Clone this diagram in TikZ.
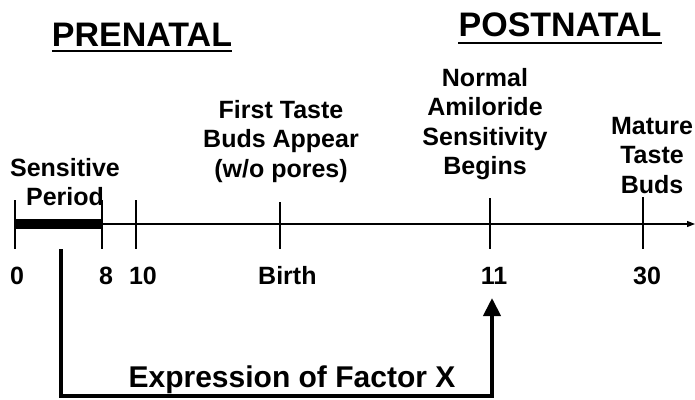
\documentclass[tikz,border=0pt]{standalone}
\usepackage{fontspec}
\setmainfont{Liberation Sans}
\usetikzlibrary{arrows.meta}
\begin{document}
\begin{tikzpicture}[x=1pt,y=-1pt,
  lbl/.style={font=\fontsize{25}{29.5}\selectfont\bfseries, align=center, inner sep=0pt, anchor=north},
  num/.style={font=\fontsize{25}{29}\selectfont\bfseries, inner sep=0pt},
  ttl/.style={font=\fontsize{34}{40}\selectfont\bfseries, inner sep=0pt},
  tickln/.style={line width=1.3pt},
  axisln/.style={line width=1.2pt, -{Triangle[width=6pt,length=8pt]}},
  barln/.style={line width=10pt},
  ulin/.style={line width=2pt},
  factor/.style={line width=4pt, line join=miter, -{Triangle[width=17pt,length=18pt]}}
  ]
\useasboundingbox (0,0) rectangle (695,399);
% titles
\node[ttl] (pre) at (142,35) {PRENATAL};
\node[ttl] (post) at (560,25) {POSTNATAL};
\draw[ulin] ([yshift=-4pt]pre.south west) -- ([yshift=-4pt]pre.south east);
\draw[ulin] ([yshift=-6pt]post.south west) -- ([yshift=-6pt]post.south east);
% labels
\node[lbl] (sens) at (65,158) {Sensitive\\Period};
\node[lbl] (first) at (281,100) {First Taste\\Buds Appear\\(w/o pores)};
\node[lbl] (normal) at (485,68) {Normal\\Amiloride\\Sensitivity\\Begins};
\node[lbl] (mature) at (652,117) {Mature\\Taste\\Buds};
% axis
\coordinate (axs) at (15,224);
\coordinate (axe) at (695,224);
\draw[axisln] (axs) -- (axe);
% ticks
\coordinate (t0a) at (15,200);  \coordinate (t0b) at (15,249);
\coordinate (t8a) at (102,200); \coordinate (t8b) at (102,249);
\coordinate (t10a) at (136,200); \coordinate (t10b) at (136,249);
\coordinate (tba) at (280,202); \coordinate (tbb) at (280,249);
\coordinate (t11a) at (490,198); \coordinate (t11b) at (490,249);
\coordinate (t30a) at (643,197); \coordinate (t30b) at (643,249);
\foreach \t in {t0,t8,t10,tb,t11,t30} \draw[tickln] (\t a) -- (\t b);
% sensitive bar
\coordinate (b0) at (15,224);
\coordinate (b8) at (102,224);
\draw[barln] (b0) -- (b8);
% numbers
\node[num] (n0) at (17,276) {0};
\node[num] (n8) at (106,276) {8};
\node[num] (n10) at (143,276) {10};
\node[num, anchor=west] (nb) at (258,276) {Birth};
\node[num] (n11) at (494,276) {11};
\node[num] (n30) at (647,276) {30};
% factor X
\coordinate (fa) at (61,249);
\coordinate (fb) at (61,396);
\coordinate (fc) at (492,396);
\coordinate (fd) at (492,298);
\draw[factor] (fa) -- (fb) -- (fc) -- (fd);
\node[font=\fontsize{30}{36}\selectfont\bfseries, inner sep=0pt, anchor=base] (fx) at (292,387) {Expression of Factor X};
\end{tikzpicture}
\end{document}
